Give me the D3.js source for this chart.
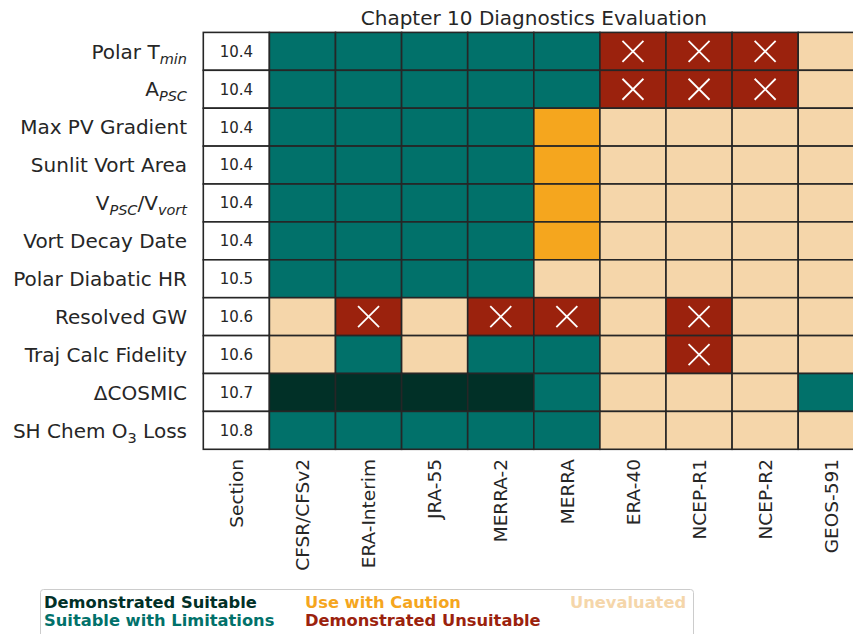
<!DOCTYPE html>
<html>
<head>
<meta charset="utf-8">
<script src="https://cdn.jsdelivr.net/npm/d3@7"></script>
<style>
  body { margin: 0; background: #fff; }
  svg { display: block; font-family: "DejaVu Sans", sans-serif; }
</style>
</head>
<body>
<script>
// datos del gráfico
const reanalyses = ["CFSR/CFSv2", "ERA-Interim", "JRA-55", "MERRA-2", "MERRA", "ERA-40", "NCEP-R1", "NCEP-R2", "GEOS-591"];
const diagnostics = ["Polar Tmin", "APSC", "Max PV Gradient", "Sunlit Vort Area", "VPSC/Vvort", "Vort Decay Date",
  "Polar Diabatic HR", "Resolved GW", "Traj Calc Fidelity", "ΔCOSMIC", "SH Chem O3 Loss"];
const sections = ["10.4", "10.4", "10.4", "10.4", "10.4", "10.4", "10.5", "10.6", "10.6", "10.7", "10.8"];
// D = demostrado adecuado, L = con limitaciones, C = precaución, X = no adecuado, U = sin evaluar
const ratings = [
  ["L", "L", "L", "L", "L", "X", "X", "X", "U"],
  ["L", "L", "L", "L", "L", "X", "X", "X", "U"],
  ["L", "L", "L", "L", "C", "U", "U", "U", "U"],
  ["L", "L", "L", "L", "C", "U", "U", "U", "U"],
  ["L", "L", "L", "L", "C", "U", "U", "U", "U"],
  ["L", "L", "L", "L", "C", "U", "U", "U", "U"],
  ["L", "L", "L", "L", "U", "U", "U", "U", "U"],
  ["U", "X", "U", "X", "X", "U", "X", "U", "U"],
  ["U", "L", "U", "L", "L", "U", "X", "U", "U"],
  ["D", "D", "D", "D", "L", "U", "U", "U", "L"],
  ["L", "L", "L", "L", "L", "U", "U", "U", "U"]
];
const legendCodes = ["D", "L", "C", "X", "U"];
const legendNames = ["Demonstrated Suitable", "Suitable with Limitations", "Use with Caution", "Demonstrated Unsuitable", "Unevaluated"];

// etiquetas con subíndices (texto, subíndice, cursiva)
const labelParts = {
  "Polar Tmin": [["Polar T", false, false], ["min", true, true]],
  "APSC": [["A", false, false], ["PSC", true, true]],
  "VPSC/Vvort": [["V", false, false], ["PSC", true, true], ["/V", false, false], ["vort", true, true]],
  "SH Chem O3 Loss": [["SH Chem O", false, false], ["3", true, false], [" Loss", false, false]]
};

const colors = { D: "#013027", L: "#01716a", C: "#f5a61e", X: "#9b220d", U: "#f5d6aa" };

const width = 853, height = 634;
const svg = d3.select("body").append("svg").attr("width", width).attr("height", height);

const cellW = 66.1, gridLeft = 203.3, gridTop = 32.4, rowH = 37.9;
const cols = ["Section"].concat(reanalyses);

const x = d3.scaleBand().domain(cols).range([gridLeft, gridLeft + cellW * cols.length]);
const y = d3.scaleBand().domain(diagnostics).range([gridTop, gridTop + rowH * diagnostics.length]);

// título
svg.append("text")
  .attr("x", gridLeft + cellW * cols.length / 2)
  .attr("y", 24.5)
  .attr("text-anchor", "middle")
  .style("font-size", "20px")
  .attr("fill", "#262626")
  .text("Chapter 10 Diagnostics Evaluation");

// celdas
const cells = [];
diagnostics.forEach((d, i) => {
  cells.push({ row: d, col: "Section", code: "S", text: sections[i] });
  reanalyses.forEach((r, j) => cells.push({ row: d, col: r, code: ratings[i][j] }));
});

const g = svg.append("g");
g.selectAll("rect.cell")
  .data(cells)
  .enter()
  .append("rect")
  .attr("class", "cell")
  .attr("x", d => x(d.col))
  .attr("y", d => y(d.row))
  .attr("width", x.bandwidth())
  .attr("height", y.bandwidth())
  .attr("fill", d => d.code === "S" ? "#ffffff" : colors[d.code])
  .attr("stroke", "#262626")
  .attr("stroke-width", 1.6);

// número de sección
g.selectAll("text.sec")
  .data(cells.filter(d => d.code === "S"))
  .enter()
  .append("text")
  .attr("class", "sec")
  .attr("x", d => x(d.col) + x.bandwidth() / 2)
  .attr("y", d => y(d.row) + y.bandwidth() / 2)
  .attr("dy", "0.36em")
  .attr("text-anchor", "middle")
  .style("font-size", "15px")
  .attr("fill", "#262626")
  .text(d => d.text);

// cruces para "no adecuado"
const crosses = cells.filter(d => d.code === "X");
const cs = 10.5;
[[-1, -1, 1, 1], [-1, 1, 1, -1]].forEach(k => {
  g.selectAll(null)
    .data(crosses)
    .enter()
    .append("line")
    .attr("x1", d => x(d.col) + x.bandwidth() / 2 + k[0] * cs)
    .attr("y1", d => y(d.row) + y.bandwidth() / 2 + k[1] * cs)
    .attr("x2", d => x(d.col) + x.bandwidth() / 2 + k[2] * cs)
    .attr("y2", d => y(d.row) + y.bandwidth() / 2 + k[3] * cs)
    .attr("stroke", "#ffffff")
    .attr("stroke-width", 1.8);
});

// etiquetas de filas
const rowLabels = svg.append("g").selectAll("text")
  .data(diagnostics)
  .enter()
  .append("text")
  .attr("x", 187)
  .attr("y", d => y(d) + y.bandwidth() / 2)
  .attr("dy", "0.36em")
  .attr("text-anchor", "end")
  .style("font-size", "20px")
  .attr("fill", "#262626");

rowLabels.each(function (d) {
  const t = d3.select(this);
  const parts = labelParts[d];
  if (!parts) { t.text(d); return; }
  let shifted = false;
  parts.forEach(p => {
    const span = t.append("tspan").text(p[0]);
    if (p[1]) {
      span.style("font-size", "14.5px").attr("dy", shifted ? 0 : 5);
      if (p[2]) span.style("font-style", "italic");
      shifted = true;
    } else if (shifted) {
      span.attr("dy", -5);
      shifted = false;
    }
  });
});

// etiquetas de columnas (rotadas)
svg.append("g").selectAll("text")
  .data(cols)
  .enter()
  .append("text")
  .attr("transform", d => `translate(${x(d) + x.bandwidth() / 2}, 459) rotate(-90)`)
  .attr("dy", "0.36em")
  .attr("text-anchor", "end")
  .style("font-size", "18.5px")
  .attr("fill", "#262626")
  .text(d => d);

// leyenda
svg.append("rect")
  .attr("x", 40.5)
  .attr("y", 589.5)
  .attr("width", 653)
  .attr("height", 60)
  .attr("rx", 3)
  .attr("fill", "#ffffff")
  .attr("stroke", "#cccccc");

const legendPos = [[44, 608], [44, 625.5], [305, 608], [305, 625.5], [570, 608]];
svg.append("g").selectAll("text")
  .data(legendCodes)
  .enter()
  .append("text")
  .attr("x", (d, i) => legendPos[i][0])
  .attr("y", (d, i) => legendPos[i][1])
  .style("font-size", "16.3px")
  .style("font-weight", "bold")
  .attr("fill", d => colors[d])
  .text((d, i) => legendNames[i]);
</script>
</body>
</html>
